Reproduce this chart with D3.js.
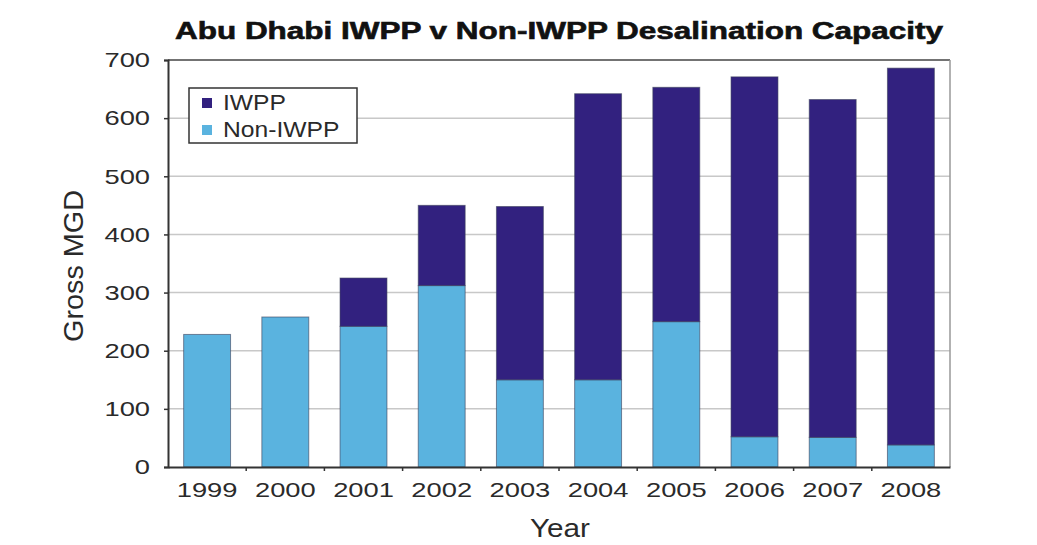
<!DOCTYPE html>
<html><head><meta charset="utf-8">
<script src="https://cdn.jsdelivr.net/npm/d3@7"></script>
<style>body{margin:0;background:#fff;} text{font-family:"Liberation Sans",Arial,sans-serif;}</style>
</head><body><svg id="c" width="1037" height="545"></svg>
<script>
const years = ["1999","2000","2001","2002","2003","2004","2005","2006","2007","2008"];
const nonIwpp = [228, 258, 242, 312, 150, 150, 250, 52, 51, 38];
const iwpp = [0, 0, 83, 138, 298, 492, 403, 619, 581, 648];
const yTicks = [0,100,200,300,400,500,600,700];
const seriesNames = ["IWPP","Non-IWPP"];
const colors = {"IWPP":"#32217f","Non-IWPP":"#5ab3df"};

const svg = d3.select("#c");
const m = {l:168, r:950, t:60, b:467};
const x = d3.scaleBand().domain(years).range([m.l, m.r]).paddingInner(0.4).paddingOuter(0.2);
const y = d3.scaleLinear().domain([0,700]).range([m.b, m.t]);

function stretch(sel, k){
  sel.each(function(){
    const L = this.getComputedTextLength();
    d3.select(this).attr("textLength", L*k).attr("lengthAdjust","spacingAndGlyphs");
  });
}

// gridlines
svg.append("g").selectAll("line").data(yTicks.filter(d=>d>0&&d<700)).join("line")
  .attr("x1", m.l).attr("x2", m.r).attr("y1", d=>y(d)).attr("y2", d=>y(d))
  .attr("stroke","#c8c8c8").attr("stroke-width",1.5);

// frame top/right
svg.append("line").attr("x1",m.l).attr("x2",m.r).attr("y1",m.t).attr("y2",m.t).attr("stroke","#444").attr("stroke-width",1.5);
svg.append("line").attr("x1",m.r).attr("x2",m.r).attr("y1",m.t).attr("y2",m.b).attr("stroke","#999").attr("stroke-width",1.5);

const data = years.map((yr,i)=>({year:yr, "Non-IWPP":nonIwpp[i], "IWPP":iwpp[i]}));
const stack = d3.stack().keys(["Non-IWPP","IWPP"])(data);
svg.append("g").selectAll("g").data(stack).join("g")
  .attr("fill", d=>colors[d.key])
  .selectAll("rect").data(d=>d.filter(p=>p[1]-p[0]>0)).join("rect")
  .attr("x", d=>x(d.data.year)).attr("width", x.bandwidth())
  .attr("y", d=>y(d[1])).attr("height", d=>y(d[0])-y(d[1]))
  .attr("stroke","#3a3f5a").attr("stroke-width",1).attr("stroke-opacity",0.6);

// y axis
const ya = svg.append("g").attr("transform",`translate(${m.l},0)`)
  .call(d3.axisLeft(y).tickValues(yTicks).tickSize(4).tickPadding(14));
ya.select(".domain").attr("stroke","#333").attr("stroke-width",2);
ya.selectAll(".tick line").attr("stroke","#333").attr("stroke-width",1.5);
ya.selectAll("text").attr("font-size",21).attr("fill","#2a2a2a").call(stretch,1.3);

// x axis
const xa = svg.append("g").attr("transform",`translate(0,${m.b})`)
  .call(d3.axisBottom(x).tickSize(0).tickPadding(15));
xa.select(".domain").attr("stroke","#333").attr("stroke-width",2);
xa.selectAll("text").attr("font-size",21).attr("fill","#2a2a2a").call(stretch,1.3);
// category separator ticks
const step = x.step();
svg.append("g").selectAll("line").data(years.slice(1)).join("line")
  .attr("x1", d=>x(d)-x.paddingInner()*step/2).attr("x2", d=>x(d)-x.paddingInner()*step/2)
  .attr("y1", m.b).attr("y2", m.b+4).attr("stroke","#333").attr("stroke-width",1.5);

// title
svg.append("text").attr("x",559).attr("y",39).attr("text-anchor","middle")
  .attr("font-size",23).attr("font-weight","bold").attr("fill","#111")
  .attr("stroke","#111").attr("stroke-width",0.6)
  .attr("textLength",768).attr("lengthAdjust","spacingAndGlyphs")
  .text("Abu Dhabi IWPP v Non-IWPP Desalination Capacity");
// y label
svg.append("text").attr("transform","translate(83,266) rotate(-90)").attr("text-anchor","middle")
  .attr("font-size",27).attr("fill","#2a2a2a")
  .attr("textLength",152).attr("lengthAdjust","spacingAndGlyphs").text("Gross MGD");
// x label
svg.append("text").attr("x",560).attr("y",537).attr("text-anchor","middle")
  .attr("font-size",26).attr("fill","#2a2a2a")
  .attr("textLength",60).attr("lengthAdjust","spacingAndGlyphs").text("Year");

// legend
const lg = svg.append("g").attr("transform","translate(189,88)");
lg.append("rect").attr("width",168).attr("height",55).attr("fill","#fff").attr("stroke","#333").attr("stroke-width",1.5);
seriesNames.forEach((s,i)=>{
  lg.append("rect").attr("x",13).attr("y",10+i*27).attr("width",10).attr("height",10).attr("fill",colors[s]);
  lg.append("text").attr("x",34).attr("y",22+i*27).attr("font-size",22).attr("fill","#2a2a2a").text(s).call(stretch,1.12);
});
</script></body></html>
